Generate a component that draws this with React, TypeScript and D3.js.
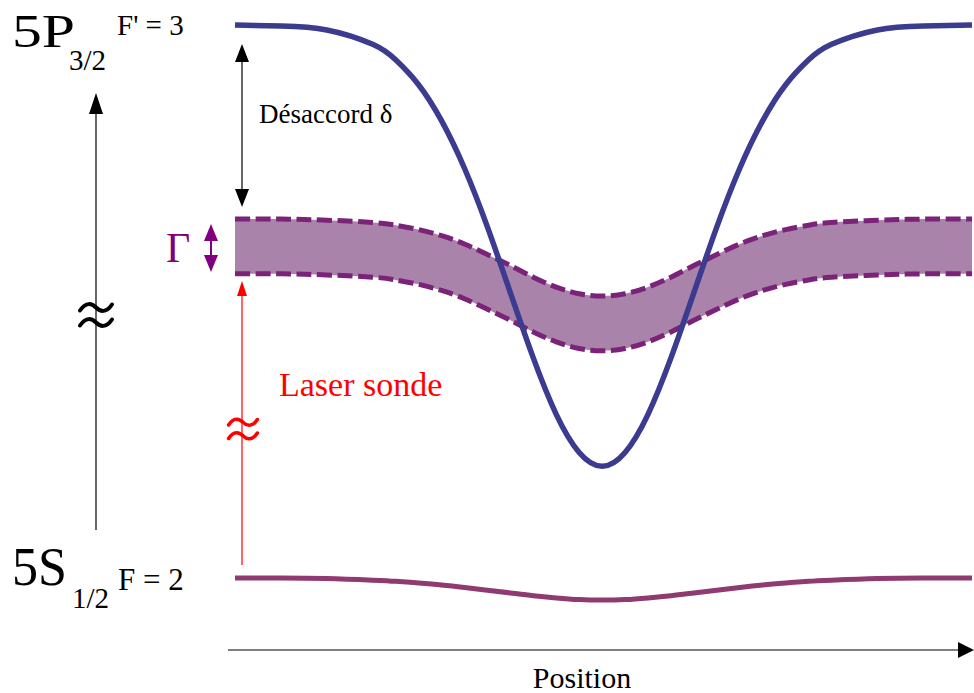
import React from "react";
import * as d3 from "d3";

// Position along the trap (arbitrary units, 0 = trap centre)
const positions = [-4, -3.5, -3, -2.5, -2.25, -2, -1.75, -1.5, -1.25, -1, -0.75, -0.5, -0.25, 0, 0.25, 0.5, 0.75, 1, 1.25, 1.5, 1.75, 2, 2.25, 2.5, 3, 3.5, 4.03];
// Energy of the excited level 5P3/2 F'=3 (arbitrary units)
const excited = [10.0, 9.98, 9.91, 9.65, 9.37, 8.92, 8.27, 7.41, 6.35, 5.16, 3.98, 2.96, 2.27, 2.02, 2.27, 2.96, 3.98, 5.16, 6.35, 7.41, 8.27, 8.92, 9.37, 9.65, 9.91, 9.98, 10.0];
// Probe laser band (upper / lower edge, width Γ)
const bandUpper = [6.49, 6.49, 6.47, 6.43, 6.38, 6.3, 6.19, 6.04, 5.85, 5.65, 5.44, 5.26, 5.14, 5.1, 5.14, 5.26, 5.44, 5.65, 5.85, 6.04, 6.19, 6.3, 6.38, 6.43, 6.47, 6.49, 6.49];
const bandLower = [5.5, 5.5, 5.48, 5.44, 5.39, 5.31, 5.2, 5.05, 4.86, 4.66, 4.45, 4.27, 4.15, 4.11, 4.15, 4.27, 4.45, 4.66, 4.86, 5.05, 5.2, 5.31, 5.39, 5.44, 5.48, 5.5, 5.5];
// Ground level 5S1/2 F=2
const ground = [0.0, 0.0, -0.01, -0.04, -0.06, -0.09, -0.125, -0.17, -0.22, -0.27, -0.32, -0.36, -0.39, -0.4, -0.39, -0.36, -0.32, -0.27, -0.22, -0.17, -0.125, -0.09, -0.06, -0.04, -0.01, 0.0, 0.0];

const W = 974;
const H = 693;
const serif = "'Liberation Serif', 'Times New Roman', serif";

function Approx({ cx, cy, s, color }: { cx: number; cy: number; s: number; color: string }) {
  const wave = (dy: number) =>
    `M ${cx - 16 * s},${cy + dy + 3 * s} C ${cx - 10 * s},${cy + dy - 6 * s} ${cx - 4 * s},${cy + dy - 4 * s} ${cx},${cy + dy} C ${cx + 4 * s},${cy + dy + 4 * s} ${cx + 10 * s},${cy + dy + 6 * s} ${cx + 16 * s},${cy + dy - 3 * s}`;
  return (
    <g fill="none" stroke={color} strokeWidth={4 * s} strokeLinecap="round">
      <path d={wave(-7.5 * s)} />
      <path d={wave(7.5 * s)} />
    </g>
  );
}

export default function App() {
  const x = d3.scaleLinear().domain([-4, 4.03]).range([235, 972]);
  const y = d3.scaleLinear().domain([0, 10]).range([578, 25]);
  const curve = d3.curveNatural;

  const lineGen = (vals: number[]) =>
    d3
      .line<number>()
      .x((_, i) => x(positions[i]))
      .y((v) => y(v))
      .curve(curve)(vals) as string;

  const areaGen = d3
    .area<number>()
    .x((_, i) => x(positions[i]))
    .y0((_, i) => y(bandLower[i]))
    .y1((_, i) => y(bandUpper[i]))
    .curve(curve);

  const purple = "#7b2379";
  const tri = (tx: number, ty: number, dir: number, hw: number, len: number, fill: string) => (
    <polygon
      points={`${tx},${ty} ${tx - hw},${ty + dir * len} ${tx + hw},${ty + dir * len}`}
      fill={fill}
    />
  );

  return (
    <svg
      width={W}
      height={H}
      style={{ position: "absolute", left: 0, top: 0, background: "#fff" }}
      fontFamily={serif}
    >
      <rect width={W} height={H} fill="#fff" />

      {/* Probe band */}
      <path d={areaGen(positions) as string} fill="#a983aa" />
      <path d={lineGen(bandUpper)} fill="none" stroke={purple} strokeWidth={5} strokeDasharray="15 5.5" />
      <path d={lineGen(bandLower)} fill="none" stroke={purple} strokeWidth={5} strokeDasharray="15 5.5" />

      {/* Excited level */}
      <path d={lineGen(excited)} fill="none" stroke="#3b3b8f" strokeWidth={5.5} />

      {/* Ground level */}
      <path d={lineGen(ground)} fill="none" stroke="#8f3a70" strokeWidth={5} />

      {/* Left energy arrow */}
      <line x1={96} y1={530} x2={96} y2={110} stroke="#000" strokeWidth={1.2} />
      {tri(96, 93, 1, 7, 21, "#000")}
      <Approx cx={96} cy={315} s={1} color="#000" />

      {/* Detuning arrow */}
      <line x1={242} y1={58} x2={242} y2={192} stroke="#000" strokeWidth={1.2} />
      {tri(242, 44, 1, 7, 18, "#000")}
      {tri(242, 207, -1, 7, 18, "#000")}
      <text x={259} y={123} fontSize={27} fill="#000">Désaccord δ</text>

      {/* Γ arrow */}
      {tri(211, 224, 1, 7, 17, "#800080")}
      {tri(211, 272, -1, 7, 17, "#800080")}
      <line x1={211} y1={240} x2={211} y2={256} stroke="#800080" strokeWidth={2} />
      <text x={166} y={262} fontSize={42} fill="#800080">Γ</text>

      {/* Probe laser arrow */}
      <line x1={242} y1={565} x2={242} y2={294} stroke="#ff0000" strokeWidth={1.2} />
      {tri(242, 281, 1, 5, 15, "#ff0000")}
      <Approx cx={243} cy={429} s={0.9} color="#ff0000" />
      <text x={279} y={396} fontSize={34} fill="#ff0000">Laser sonde</text>

      {/* Level labels */}
      <text x={12} y={47} fontSize={47} textLength={63} lengthAdjust="spacingAndGlyphs">5P</text>
      <text x={69} y={70} fontSize={29}>3/2</text>
      <text x={117} y={35} fontSize={29}>F' = 3</text>

      <text x={12} y={585} fontSize={55} textLength={55} lengthAdjust="spacingAndGlyphs">5S</text>
      <text x={72} y={608} fontSize={29}>1/2</text>
      <text x={118} y={590} fontSize={31}>F = 2</text>

      {/* Position axis */}
      <line x1={228} y1={650} x2={960} y2={650} stroke="#000" strokeWidth={1.2} />
      <polygon points={`974,650 958,642 958,658`} fill="#000" />
      <text x={582} y={688} fontSize={30} textAnchor="middle">Position</text>
    </svg>
  );
}
